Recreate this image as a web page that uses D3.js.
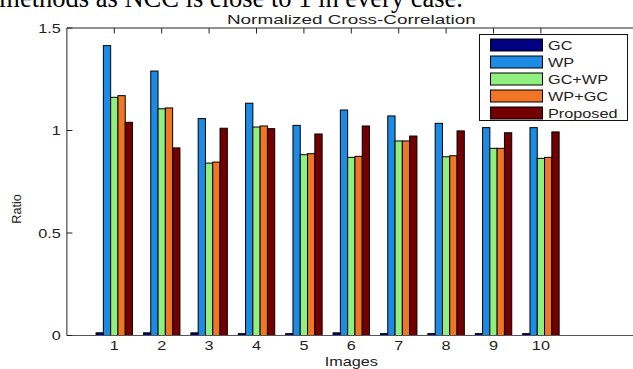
<!DOCTYPE html>
<html>
<head>
<meta charset="utf-8">
<script src="https://cdn.jsdelivr.net/npm/d3@7"></script>
<style>
  html, body { margin: 0; padding: 0; background: #fff; }
  svg { display: block; }
  text { font-family: "Liberation Sans", Arial, sans-serif; fill: #222; }
</style>
</head>
<body>
<svg id="chart" width="633" height="369"></svg>
<script>
// Image indices along the x axis
const categories = [1, 2, 3, 4, 5, 6, 7, 8, 9, 10];
const seriesNames = ["GC", "WP", "GC+WP", "WP+GC", "Proposed"];
// Normalized cross-correlation ratio per method
const gcValues       = [0.013, 0.013, 0.013, 0.009, 0.009, 0.013, 0.009, 0.009, 0.009, 0.009];
const wpValues       = [1.414, 1.290, 1.058, 1.133, 1.025, 1.100, 1.071, 1.035, 1.014, 1.014];
const gcWpValues     = [1.162, 1.106, 0.841, 1.017, 0.882, 0.869, 0.949, 0.872, 0.913, 0.864];
const wpGcValues     = [1.170, 1.110, 0.846, 1.022, 0.887, 0.874, 0.949, 0.877, 0.913, 0.869];
const proposedValues = [1.040, 0.915, 1.011, 1.009, 0.983, 1.022, 0.973, 0.998, 0.989, 0.993];
const yTicks = [0, 0.5, 1, 1.5];
const yTickLabels = ["0", "0.5", "1", "1.5"];
const colors = ["#000080", "#1c8be6", "#8ff07e", "#f07524", "#720000"];

const series = [gcValues, wpValues, gcWpValues, wpGcValues, proposedValues];

const svg = d3.select("#chart");
const stretch = 1.3; // glyphs are drawn horizontally widened

// Axes geometry
const plotLeft = 66.9, unit = 47.4, plotTop = 28, plotBottom = 335.5;
const x = d3.scaleLinear().domain([0, 12]).range([plotLeft, plotLeft + 12 * unit]);
const y = d3.scaleLinear().domain([0, 1.5]).range([plotBottom, plotTop]);

function label(g, px, py, str, size, anchor, sx) {
  return g.append("text")
    .attr("transform", `translate(${px},${py}) scale(${sx || stretch},1)`)
    .attr("font-size", size)
    .attr("text-anchor", anchor || "start")
    .text(str);
}

// Line of surrounding body text running off the top edge
svg.append("text")
  .attr("x", 463).attr("y", 6.5)
  .attr("text-anchor", "end")
  .style("font-family", "'Liberation Serif', 'Times New Roman', serif")
  .style("fill", "#000")
  .attr("font-size", 26.5)
  .text("methods as NCC is close to 1 in every case.");

// Plot background
svg.append("rect")
  .attr("x", x(0)).attr("y", plotTop)
  .attr("width", x(12) - x(0)).attr("height", plotBottom - plotTop)
  .attr("fill", "#fff");

// Grouped bars
const nS = series.length;
const groupW = Math.min(0.8, nS / (nS + 1.5));
const barW = groupW / nS;
const barsG = svg.append("g");
series.forEach((vals, si) => {
  barsG.selectAll(null)
    .data(categories.map((c, i) => ({ c, v: vals[i] })))
    .join("rect")
    .attr("x", d => x(d.c - groupW / 2 + si * barW))
    .attr("width", x(barW) - x(0))
    .attr("y", d => y(d.v))
    .attr("height", d => y(0) - y(d.v))
    .attr("fill", colors[si])
    .attr("stroke", "#000")
    .attr("stroke-width", 1);
});

// Axes box
const axG = svg.append("g");
axG.append("line").attr("x1", x(0)).attr("x2", x(12)).attr("y1", plotTop).attr("y2", plotTop).attr("stroke", "#222");
axG.append("line").attr("x1", x(0)).attr("x2", x(12)).attr("y1", plotBottom).attr("y2", plotBottom).attr("stroke", "#555");
axG.append("line").attr("x1", x(0)).attr("x2", x(0)).attr("y1", plotTop).attr("y2", plotBottom).attr("stroke", "#222");

// Inward tick marks
const tickLen = 5.5;
axG.selectAll(".yt").data(yTicks).join("line")
  .attr("x1", x(0)).attr("x2", x(0) + tickLen)
  .attr("y1", d => y(d)).attr("y2", d => y(d))
  .attr("stroke", "#222");
axG.selectAll(".xt").data(categories).join("line")
  .attr("x1", d => x(d)).attr("x2", d => x(d))
  .attr("y1", plotTop).attr("y2", plotTop + tickLen)
  .attr("stroke", "#222");

// Tick labels
yTicks.forEach((v, i) => {
  label(svg, x(0) - 6, y(v) + 4.5, yTickLabels[i], 12.5, "end");
});
categories.forEach(c => {
  label(svg, x(c), 350, String(c), 12.5, "middle");
});

// Title and axis labels
label(svg, x(6), 23.5, "Normalized Cross-Correlation", 13.5, "middle", 1.4);
label(svg, x(6), 366, "Images", 12.5, "middle");
svg.append("text")
  .attr("transform", `translate(21,209) rotate(-90) scale(1.15,1.15)`)
  .attr("font-size", 11)
  .attr("text-anchor", "middle")
  .text("Ratio");

// Legend
const lg = svg.append("g");
lg.append("rect")
  .attr("x", 479.5).attr("y", 34.5)
  .attr("width", 148).attr("height", 86)
  .attr("fill", "#fff").attr("stroke", "#111");
seriesNames.forEach((name, i) => {
  const cy = 45 + i * 17;
  lg.append("rect")
    .attr("x", 490.5).attr("y", cy - 6)
    .attr("width", 52).attr("height", 12)
    .attr("fill", colors[i]).attr("stroke", "#000");
  label(lg, 548, cy + 4.5, name, 12.5, "start");
});
</script>
</body>
</html>
